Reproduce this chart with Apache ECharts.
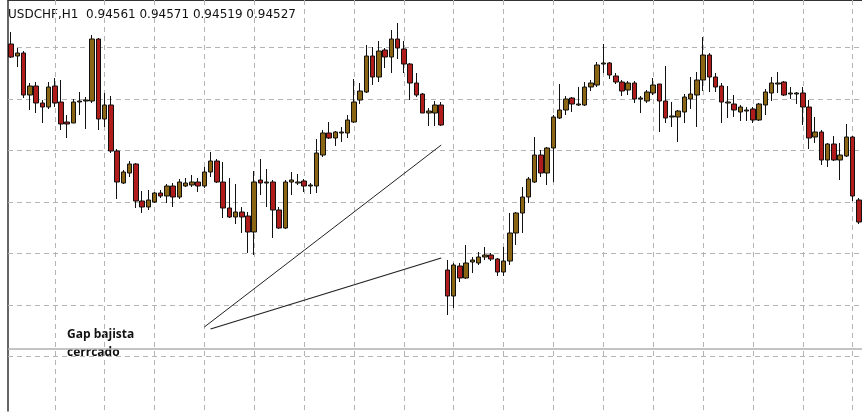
<!DOCTYPE html>
<html><head><meta charset="utf-8">
<script src="https://cdn.jsdelivr.net/npm/echarts@6/dist/echarts.min.js"></script>
<style>html,body{margin:0;padding:0;background:#fff}#c{width:862px;height:417px}</style>
</head><body><div id="c"></div>
<script>
// values are screen-read price levels (pixel rows of the reference, higher row = lower price)
const opens  = [44,56,53,95,86,103,107,86,102,122,123,102,101,101,39,119,105,151,183,173,164,201,207,202,193,196,186,197,186,185,182,186,172,161,182,208,217,212,216,232,180,183,182,210,228,182,183,181,186,186,155,133,138,133,133,122,100,92,56,77,50,57,39,49,64,83,94,113,113,105,270,296,266,278,262,263,257,255,259,272,261,233,213,197,182,155,173,148,118,110,98,105,105,87,85,64,63,76,82,90,83,99,101,93,84,101,117,117,112,99,95,80,55,77,86,103,104,112,111,109,120,105,93,84,82,94,94,93,107,137,132,160,144,160,156,137,200];
const closes = [57,53,95,86,103,107,87,103,124,124,102,101,100,39,119,105,151,182,172,164,201,207,200,193,196,186,197,182,183,182,186,172,161,182,208,217,212,217,232,182,183,182,210,228,182,180,182,186,185,153,133,138,132,132,120,102,91,56,77,51,57,39,48,64,83,95,113,111,105,125,296,265,278,263,260,257,255,259,272,261,233,213,197,179,155,173,148,117,110,99,104,104,87,83,65,63,75,82,91,83,99,98,92,85,101,118,116,111,97,94,80,55,77,87,102,102,110,107,110,120,104,92,83,83,95,93,93,107,138,132,160,144,160,155,137,196,222];
const highs  = [32,48,51,83,82,100,82,78,80,115,99,92,97,35,38,93,96,149,170,161,163,191,190,192,190,184,183,179,178,175,178,167,152,159,162,178,184,207,212,171,159,169,180,207,180,172,174,179,183,139,130,122,131,127,115,79,83,45,47,41,48,30,23,41,63,73,93,108,101,102,260,263,263,245,257,252,247,253,258,247,213,212,187,177,137,150,147,115,84,96,97,87,82,80,62,44,62,73,80,81,81,96,90,78,84,66,102,110,94,77,72,37,53,73,83,86,95,105,107,107,103,89,77,72,81,87,92,87,100,117,130,143,136,143,124,136,198];
const lows   = [58,67,98,110,113,123,109,107,130,138,123,115,129,103,130,127,153,199,184,177,208,213,210,203,198,203,207,199,187,187,192,188,177,183,218,218,224,233,253,255,195,207,238,229,229,195,185,192,194,193,157,139,146,142,138,123,104,93,85,82,68,73,59,73,100,97,113,126,126,126,315,308,282,279,273,265,260,261,276,276,265,245,233,203,183,177,185,182,119,115,112,106,106,91,87,73,79,84,96,95,103,113,103,95,132,123,127,142,123,109,127,91,92,92,123,118,117,121,121,123,121,115,101,93,96,99,104,125,149,143,165,167,161,180,157,201,224];
const categories = opens.map((_, i) => 'H' + (i + 1));
const gridLevels = [47, 99, 150.5, 202, 253.5, 305, 356.5];
const supportLevel = 349;
const vGridIdx = [7,15,23,31,39,47,55,63,71,79,87,95,103,111,119,127,135];
const trendA = [[31, 327], [69, 145]];
const trendB = [[32, 329], [69, 258]];
const header = 'USDCHF,H1  0.94561 0.94571 0.94519 0.94527';
const note = 'Gap bajista\ncerrcado';

const candles = opens.map((o, i) => [o, closes[i], highs[i], lows[i]]);
const dash = {color: '#b4b4b4', type: [5, 4], width: 1};
const ml = [];
gridLevels.forEach(v => ml.push({yAxis: v, lineStyle: dash}));
vGridIdx.forEach(v => ml.push({xAxis: v, lineStyle: dash}));
ml.push({yAxis: supportLevel, lineStyle: {color: '#b0b0b0', type: 'solid', width: 1.5}});
ml.push([{coord: trendA[0], lineStyle: {color: '#222', type: 'solid', width: 1}}, {coord: trendA[1]}]);
ml.push([{coord: trendB[0], lineStyle: {color: '#222', type: 'solid', width: 1.3}}, {coord: trendB[1]}]);

const chart = echarts.init(document.getElementById('c'));
chart.setOption({
  animation: false,
  backgroundColor: '#fff',
  grid: {left: 8, top: 0, width: 856.25, height: 411},
  xAxis: {type: 'category', data: categories, boundaryGap: true,
    axisLine: {lineStyle: {color: '#333'}}, axisTick: {show: false}, axisLabel: {show: false}, splitLine: {show: false}},
  yAxis: {type: 'value', inverse: true, min: 0, max: 411,
    axisLine: {show: true, lineStyle: {color: '#333', width: 1.5}}, axisTick: {show: false}, axisLabel: {show: false}, splitLine: {show: false}},
  series: [{
    type: 'candlestick', data: candles, barWidth: 5,
    itemStyle: {color: '#b01c1c', color0: '#8a6514', borderColor: '#111', borderColor0: '#111', borderWidth: 1},
    markLine: {silent: true, symbol: 'none', label: {show: false}, animation: false, data: ml, z: 1}
  }],
  graphic: [
    {type: 'text', left: 8, top: 9, style: {text: header, font: '12px "DejaVu Sans"', fill: '#111'}},
    {type: 'text', left: 67, top: 326, style: {text: note, font: 'bold 12px "Open Sans"', fill: '#111', lineHeight: 18}}
  ]
});
</script></body></html>
